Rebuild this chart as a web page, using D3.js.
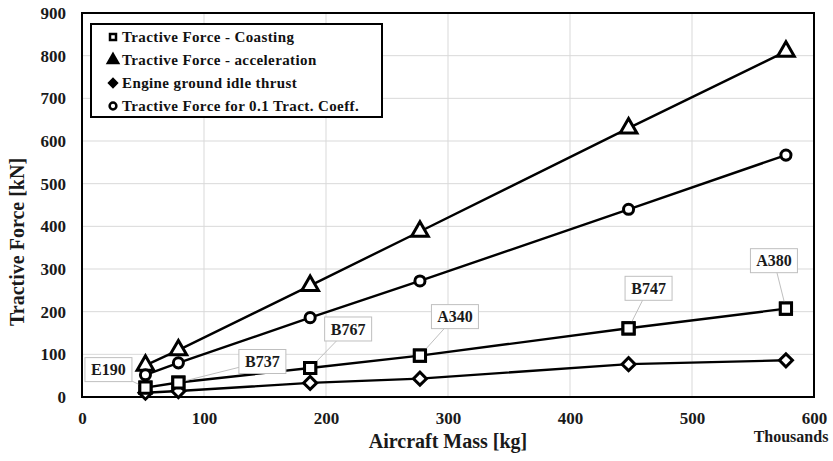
<!DOCTYPE html>
<html lang="en">
<head>
    <meta charset="UTF-8">
    <title>Tractive Force vs Aircraft Mass</title>
    <script src="https://d3js.org/d3.v7.min.js"></script>
    <style>
        body {
            margin: 0;
            background: #fff;
        }
        svg {
            display: block;
            font-family: "Liberation Serif", "Times New Roman", serif;
            font-weight: bold;
        }
        .grid line {
            stroke: #d9d9d9;
            stroke-width: 1;
        }
        .series-line {
            fill: none;
            stroke: #000;
            stroke-width: 2.4;
        }
        .callout rect {
            fill: #fff;
            stroke: #bfbfbf;
        }
        .leader {
            stroke: #bfbfbf;
            stroke-width: 1;
        }
    </style>
</head>
<body>
    <script>
        // values (mass in thousands of kg, force in kN)
        const aircraft = ["E190", "B737", "B767", "A340", "B747", "A380"];
        const massThousands = [52, 79, 187, 277, 448, 577];
        const coasting = [22, 34, 68, 97, 161, 207];
        const acceleration = [74, 110, 261, 388, 630, 810];
        const idleThrust = [10, 14, 33, 43, 77, 86];
        const tractCoeff = [52, 80, 186, 272, 440, 567];

        const xTicks = [0, 100, 200, 300, 400, 500, 600];
        const yTicks = [0, 100, 200, 300, 400, 500, 600, 700, 800, 900];

        const seriesNames = [
            "Tractive Force - Coasting",
            "Tractive Force - acceleration",
            "Engine ground idle thrust",
            "Tractive Force for 0.1 Tract. Coeff."
        ];

        // callout box offsets (px) from the coasting point
        const calloutOffsets = [[-37, -18], [84, -21], [38, -39], [35, -39], [20, -40], [-12, -48]];

        const width = 833, height = 461;
        const margin = {top: 13, right: 19, bottom: 64, left: 82};
        const innerW = width - margin.left - margin.right;
        const innerH = height - margin.top - margin.bottom;

        const svg = d3.select("body").append("svg")
            .attr("width", width)
            .attr("height", height);

        const g = svg.append("g")
            .attr("transform", `translate(${margin.left},${margin.top})`);

        const x = d3.scaleLinear().domain([0, 600]).range([0, innerW]);
        const y = d3.scaleLinear().domain([0, 900]).range([innerH, 0]);

        // gridlines
        g.append("g").attr("class", "grid")
            .selectAll("line").data(yTicks.slice(1, -1)).enter().append("line")
            .attr("x1", 0).attr("x2", innerW)
            .attr("y1", d => y(d)).attr("y2", d => y(d));
        g.append("g").attr("class", "grid")
            .selectAll("line").data(xTicks.slice(1, -1)).enter().append("line")
            .attr("y1", 0).attr("y2", innerH)
            .attr("x1", d => x(d)).attr("x2", d => x(d));

        // axes (labels only, frame drawn separately)
        const xAxis = g.append("g")
            .attr("transform", `translate(0,${innerH})`)
            .call(d3.axisBottom(x).tickValues(xTicks).tickSize(0).tickPadding(15));
        const yAxis = g.append("g")
            .call(d3.axisLeft(y).tickValues(yTicks).tickSize(0).tickPadding(16));
        [xAxis, yAxis].forEach(a => {
            a.select(".domain").remove();
            a.attr("font-family", null).attr("font-size", null);
            a.selectAll("text")
                .attr("font-size", 17)
                .attr("fill", "#1a1a1a");
        });

        // plot frame
        g.append("rect")
            .attr("width", innerW).attr("height", innerH)
            .attr("fill", "none").attr("stroke", "#000").attr("stroke-width", 2);

        const series = [coasting, acceleration, idleThrust, tractCoeff];
        const line = d3.line()
            .x((d, i) => x(massThousands[i]))
            .y(d => y(d));

        series.forEach(vals => {
            g.append("path").attr("class", "series-line").attr("d", line(vals));
        });

        // diamond = square turned 45 degrees
        const sym = [d3.symbolSquare, d3.symbolTriangle, d3.symbolSquare, d3.symbolCircle];
        const symSize = [125, 120, 85, 80];
        const symRot = [0, 0, 45, 0];

        function drawMarkers(vals, s) {
            g.append("g").selectAll("path").data(vals).enter().append("path")
                .attr("d", d3.symbol().type(sym[s]).size(symSize[s]))
                .attr("transform", (d, i) => `translate(${x(massThousands[i])},${y(d)}) rotate(${symRot[s]})`)
                .attr("fill", "#fff")
                .attr("stroke", "#000")
                .attr("stroke-width", 3);
        }
        series.forEach((vals, s) => drawMarkers(vals, s));

        // callouts on coasting series
        const callouts = g.append("g");
        aircraft.forEach((name, i) => {
            const px = x(massThousands[i]), py = y(coasting[i]);
            const cx = px + calloutOffsets[i][0], cy = py + calloutOffsets[i][1];
            callouts.append("line").attr("class", "leader")
                .attr("x1", px).attr("y1", py).attr("x2", cx).attr("y2", cy);
            const c = callouts.append("g").attr("class", "callout")
                .attr("transform", `translate(${cx},${cy})`);
            c.append("rect").attr("x", -23.5).attr("y", -12).attr("width", 47).attr("height", 24);
            c.append("text").text(name)
                .attr("text-anchor", "middle").attr("dy", "0.35em")
                .attr("font-size", 16).attr("fill", "#1a1a1a");
        });

        // coasting markers again, above the leader lines
        drawMarkers(coasting, 0);

        // legend
        const legend = g.append("g").attr("transform", "translate(9,11)");
        legend.append("rect")
            .attr("width", 291).attr("height", 93)
            .attr("fill", "#fff").attr("stroke", "#000").attr("stroke-width", 2);
        const legSym = [
            {type: d3.symbolSquare, size: 36, fill: "#fff", rot: 0},
            {type: d3.symbolTriangle, size: 45, fill: "#000", rot: 0},
            {type: d3.symbolSquare, size: 30, fill: "#000", rot: 45},
            {type: d3.symbolCircle, size: 36, fill: "#fff", rot: 0}
        ];
        seriesNames.forEach((name, i) => {
            const row = legend.append("g").attr("transform", `translate(22,${13 + i * 23})`);
            row.append("path")
                .attr("d", d3.symbol().type(legSym[i].type).size(legSym[i].size))
                .attr("transform", `rotate(${legSym[i].rot})`)
                .attr("fill", legSym[i].fill).attr("stroke", "#000").attr("stroke-width", 2.5);
            row.append("text").text(name)
                .attr("x", 9).attr("dy", "0.35em")
                .attr("font-size", 15).attr("letter-spacing", 0.4).attr("fill", "#111");
        });

        // axis titles
        svg.append("text")
            .attr("transform", `translate(24,242) rotate(-90)`)
            .attr("text-anchor", "middle")
            .attr("font-size", 20).attr("fill", "#1a1a1a")
            .text("Tractive Force [kN]");
        svg.append("text")
            .attr("x", 448).attr("y", 448)
            .attr("text-anchor", "middle")
            .attr("font-size", 20).attr("fill", "#1a1a1a")
            .text("Aircraft Mass [kg]");
        svg.append("text")
            .attr("x", 791).attr("y", 442)
            .attr("text-anchor", "middle")
            .attr("font-size", 16).attr("fill", "#1a1a1a")
            .text("Thousands");
    </script>
</body>
</html>
